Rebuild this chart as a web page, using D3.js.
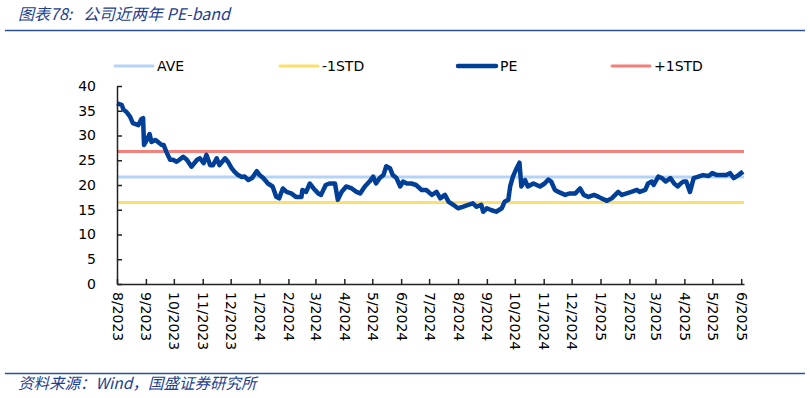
<!DOCTYPE html>
<html>
<head>
<meta charset="utf-8">
<script src="https://cdn.jsdelivr.net/npm/d3@7"></script>
<style>
  body { margin: 0; background: #fff; }
  svg { display: block; }
</style>
</head>
<body>
<div id="chart"></div>
<script>
// PE series
const dates = [
  "2023-08-01","2023-08-06","2023-08-08","2023-08-11","2023-08-15","2023-08-18","2023-08-24","2023-08-27","2023-08-29","2023-08-30",
  "2023-09-02","2023-09-05","2023-09-07","2023-09-11","2023-09-14","2023-09-18","2023-09-20","2023-09-23","2023-09-27","2023-09-30",
  "2023-10-04","2023-10-07","2023-10-11","2023-10-15","2023-10-20","2023-10-26","2023-10-29","2023-11-02","2023-11-05","2023-11-09",
  "2023-11-12","2023-11-16","2023-11-19","2023-11-25","2023-11-28","2023-12-02","2023-12-05","2023-12-09","2023-12-13","2023-12-16",
  "2023-12-20","2023-12-24","2023-12-29","2024-01-01","2024-01-05","2024-01-10","2024-01-15","2024-01-19","2024-01-22","2024-01-26",
  "2024-01-30","2024-02-04","2024-02-09","2024-02-15","2024-02-16","2024-02-20","2024-02-24","2024-02-28","2024-03-04","2024-03-07",
  "2024-03-12","2024-03-16","2024-03-22","2024-03-25","2024-03-29","2024-04-03","2024-04-09","2024-04-14","2024-04-18","2024-04-23",
  "2024-04-28","2024-05-02","2024-05-05","2024-05-09","2024-05-13","2024-05-16","2024-05-20","2024-05-23","2024-05-27","2024-05-31",
  "2024-06-03","2024-06-07","2024-06-12","2024-06-17","2024-06-23","2024-06-28","2024-07-04","2024-07-09","2024-07-13","2024-07-18",
  "2024-07-22","2024-07-27","2024-08-01","2024-08-06","2024-08-12","2024-08-17","2024-08-21","2024-08-26","2024-08-28","2024-09-01",
  "2024-09-06","2024-09-11","2024-09-17","2024-09-20","2024-09-24","2024-09-26","2024-09-29","2024-10-03","2024-10-06","2024-10-08",
  "2024-10-12","2024-10-15","2024-10-21","2024-10-28","2024-11-02","2024-11-06","2024-11-09","2024-11-13","2024-11-18","2024-11-24",
  "2024-11-29","2024-12-05","2024-12-10","2024-12-14","2024-12-19","2024-12-25","2024-12-30","2025-01-02","2025-01-08","2025-01-13",
  "2025-01-20","2025-01-24","2025-01-29","2025-02-03","2025-02-09","2025-02-12","2025-02-18","2025-02-21","2025-02-25","2025-02-27",
  "2025-03-04","2025-03-08","2025-03-12","2025-03-17","2025-03-21","2025-03-25","2025-03-28","2025-03-31","2025-04-03","2025-04-07",
  "2025-04-11","2025-04-16","2025-04-21","2025-04-27","2025-05-01","2025-05-06","2025-05-11","2025-05-16","2025-05-20","2025-05-24",
  "2025-05-29","2025-06-03"
];
const pe = [
  36.5,36.2,35.2,34.8,33.8,32.5,32.1,33.3,33.5,28.1,
  29.1,30.3,28.7,29.1,28.7,28.1,28.1,26.7,25.1,25.1,
  24.7,25.1,25.7,25.1,23.7,25.1,25.4,24.4,26.1,24.0,
  24.0,25.4,24.0,25.4,24.7,23.4,22.7,22.0,21.6,21.7,
  21.0,21.4,22.8,22.0,21.4,20.3,19.7,17.6,17.3,19.3,
  18.6,18.3,17.6,17.6,19.0,18.6,20.3,19.3,18.3,18.0,
  20.0,20.3,20.3,17.0,18.6,19.7,19.3,18.6,18.3,19.7,
  20.7,21.7,20.3,21.4,22.0,23.8,23.4,22.0,21.4,19.7,
  20.7,20.3,20.3,20.0,19.0,19.0,18.0,18.6,17.3,18.0,
  16.6,16.0,15.3,15.6,16.0,16.3,15.6,16.0,14.6,15.3,
  14.9,14.6,15.3,16.6,17.0,19.7,21.7,23.4,24.5,19.7,
  21.0,19.7,20.3,19.7,20.3,21.1,20.7,19.0,18.5,18.0,
  18.3,18.3,19.3,18.0,17.6,18.0,17.6,17.3,16.8,17.3,
  18.6,18.0,18.3,18.6,19.0,18.6,19.0,20.3,20.7,20.0,
  21.7,21.4,20.7,21.4,20.3,19.7,20.3,20.7,20.7,18.6,
  21.4,21.7,22.0,21.8,22.4,22.0,22.0,22.0,22.4,21.4,
  22.0,22.7
];
// band levels
const bandNames = ["AVE", "-1STD", "+1STD"];
const bandValues = [21.6, 16.45, 26.75];
const bandColors = ["#b4d3f7", "#ffdf6b", "#f47f7b"];
const yTicks = [0, 5, 10, 15, 20, 25, 30, 35, 40];
const legendNames = ["AVE", "-1STD", "PE", "+1STD"];
const legendColors = ["#b4d3f7", "#ffdf6b", "#003f98", "#f47f7b"];

const W = 810, H = 398;
const parse = d3.timeParse("%Y-%m-%d");
const series = dates.map((d, i) => ({ date: parse(d), v: pe[i] }));

const svg = d3.select("#chart").append("svg")
  .attr("width", W)
  .attr("height", H);

const x = d3.scaleTime()
  .domain([parse("2023-08-01"), parse("2025-06-04")])
  .range([117, 744]);
const y = d3.scaleLinear()
  .domain([0, 40])
  .range([284, 86]);

// title + header rule
svg.append("text")
  .attr("x", 18).attr("y", 20)
  .attr("fill", "#1d3f8f")
  .attr("font-family", "'Noto Sans CJK SC', sans-serif")
  .attr("font-style", "italic")
  .attr("font-size", 16)
  .text("图表78:\u00a0\u00a0\u00a0公司近两年 PE-band");
svg.append("line")
  .attr("x1", 5).attr("x2", 805).attr("y1", 30.5).attr("y2", 30.5)
  .attr("stroke", "#2b4f9c").attr("stroke-width", 1.3);

// footer
svg.append("line")
  .attr("x1", 5).attr("x2", 805).attr("y1", 373.5).attr("y2", 373.5)
  .attr("stroke", "#2b4f9c").attr("stroke-width", 1.3);
svg.append("text")
  .attr("x", 18).attr("y", 389)
  .attr("fill", "#1d3f8f")
  .attr("font-family", "'Noto Sans CJK SC', sans-serif")
  .attr("font-style", "italic")
  .attr("font-size", 15.5)
  .text("资料来源：Wind，国盛证券研究所");

// legend
const legX = [115, 280, 458, 612];
const leg = svg.selectAll(".leg").data(legendNames).enter().append("g")
  .attr("class", "leg")
  .attr("transform", (d, i) => `translate(${legX[i]},66)`);
leg.append("line")
  .attr("x1", 0).attr("x2", 38)
  .attr("stroke", (d, i) => legendColors[i])
  .attr("stroke-width", (d) => d == "PE" ? 4.5 : 3)
  .attr("stroke-linecap", "round");
leg.append("text")
  .attr("x", 42).attr("y", 5)
  .attr("font-family", "'DejaVu Sans', sans-serif")
  .attr("font-size", 14)
  .attr("fill", "#000")
  .text(d => d);

// band lines
svg.selectAll(".band").data(bandValues).enter().append("line")
  .attr("class", "band")
  .attr("x1", x.range()[0]).attr("x2", x.range()[1])
  .attr("y1", d => y(d)).attr("y2", d => y(d))
  .attr("stroke", (d, i) => bandColors[i])
  .attr("stroke-width", 3);

// PE line
svg.append("path")
  .datum(series)
  .attr("fill", "none")
  .attr("stroke", "#003f98")
  .attr("stroke-width", 4.5)
  .attr("stroke-linejoin", "round")
  .attr("d", d3.line().x(d => x(d.date)).y(d => y(d.v)));

// y axis, ticks point inside
const yAxis = svg.append("g")
  .attr("transform", "translate(117,0)")
  .call(d3.axisLeft(y).tickValues(yTicks).tickSizeInner(-5).tickSizeOuter(0).tickPadding(21));
yAxis.selectAll("text")
  .attr("font-family", "'DejaVu Sans', sans-serif")
  .attr("font-size", 14)
  .attr("fill", "#000");

// x axis, month ticks, rotated labels
const months = d3.timeMonth.range(parse("2023-08-01"), parse("2025-06-02"));
const xAxis = svg.append("g")
  .attr("transform", "translate(0,284)")
  .call(d3.axisBottom(x).tickValues(months).tickFormat(d3.timeFormat("%-m/%Y"))
    .tickSizeInner(-5).tickSizeOuter(0));
xAxis.selectAll("text")
  .attr("font-family", "'DejaVu Sans', sans-serif")
  .attr("font-size", 14)
  .attr("fill", "#000")
  .attr("transform", "rotate(90)")
  .attr("text-anchor", "start")
  .attr("dy", "0.35em")
  .attr("x", 8)
  .attr("y", 0);

svg.selectAll(".domain, .tick line").attr("stroke", "#222").attr("stroke-width", 1.5);
</script>
</body>
</html>
